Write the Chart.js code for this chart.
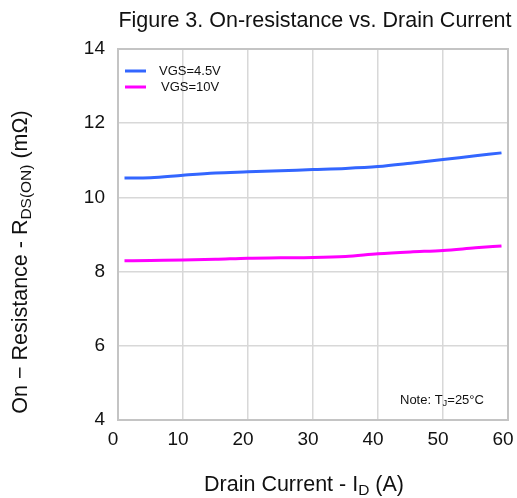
<!DOCTYPE html>
<html>
<head>
<meta charset="utf-8">
<script src="https://cdn.jsdelivr.net/npm/chart.js@4/dist/chart.umd.min.js"></script>
<style>
  html, body { margin: 0; padding: 0; background: #fff; }
  #wrap { width: 517px; height: 498px; }
</style>
</head>
<body>
<div id="wrap"><canvas id="myChart" width="517" height="498"></canvas></div>
<script>
// drain current (A) and on-resistance (mOhm)
const currentA = [1, 5, 10, 15, 20, 25, 30, 35, 40, 45, 50, 55, 59];
const rdsVgs45 = [10.52, 10.53, 10.6, 10.66, 10.69, 10.72, 10.75, 10.78, 10.83, 10.92, 11.02, 11.12, 11.2];
const rdsVgs10 = [8.29, 8.3, 8.31, 8.33, 8.36, 8.37, 8.38, 8.41, 8.48, 8.53, 8.57, 8.64, 8.69];
const seriesNames = ['VGS=4.5V', 'VGS=10V'];
const seriesColors = ['#3366ff', '#ff00ff'];

const FONT = '"Liberation Sans", Arial, sans-serif';

function toPoints(ys) {
    return currentA.map((x, i) => ({ x: x, y: ys[i] }));
}

// draws text with a subscript part: parts = [[text, isSub], ...]
function drawRich(ctx, parts, x, y, size, align) {
    let total = 0;
    parts.forEach(p => {
        ctx.font = (p[1] ? size * 0.72 : size) + 'px ' + FONT;
        total += ctx.measureText(p[0]).width;
    });
    let cx = align === 'center' ? x - total / 2 : x;
    ctx.textAlign = 'left';
    ctx.textBaseline = 'middle';
    parts.forEach(p => {
        ctx.font = (p[1] ? size * 0.72 : size) + 'px ' + FONT;
        ctx.fillText(p[0], cx, p[1] ? y + size * 0.25 : y);
        cx += ctx.measureText(p[0]).width;
    });
}

const textPlugin = {
    id: 'figureText',
    afterDraw(chart) {
        const ctx = chart.ctx;
        const area = chart.chartArea;
        ctx.save();
        ctx.fillStyle = '#111';

        // title
        ctx.font = '21.5px ' + FONT;
        ctx.textAlign = 'center';
        ctx.textBaseline = 'middle';
        ctx.fillText('Figure 3. On-resistance vs. Drain Current', 315, 21);

        // x axis title
        drawRich(ctx, [['Drain Current - I', false], ['D', true], [' (A)', false]], 304, 485, 21.5, 'center');

        // y axis title
        ctx.save();
        ctx.translate(21, 262);
        ctx.rotate(-Math.PI / 2);
        drawRich(ctx, [['On \u2212 Resistance - R', false], ['DS(ON)', true], [' (m\u03a9)', false]], 0, 0, 21.5, 'center');
        ctx.restore();

        // legend inside the plot
        chart.data.datasets.forEach((ds, i) => {
            const y = area.top + 22 + i * 16;
            ctx.strokeStyle = ds.borderColor;
            ctx.lineWidth = 3;
            ctx.beginPath();
            ctx.moveTo(area.left + 7, y);
            ctx.lineTo(area.left + 28, y);
            ctx.stroke();
            ctx.fillStyle = '#111';
            ctx.font = '13px ' + FONT;
            ctx.textAlign = 'left';
            ctx.textBaseline = 'middle';
            ctx.fillText(ds.label, area.left + 41 + i * 2, y);
        });

        // test condition note
        drawRich(ctx, [['Note: T', false], ['J', true], ['=25\u00b0C', false]], 400, 400, 13, 'left');
        ctx.restore();
    }
};

new Chart(document.getElementById('myChart'), {
    type: 'line',
    data: {
        datasets: [
            {
                label: seriesNames[0],
                data: toPoints(rdsVgs45),
                borderColor: seriesColors[0],
                borderWidth: 3,
                pointRadius: 0,
                cubicInterpolationMode: 'monotone'
            },
            {
                label: seriesNames[1],
                data: toPoints(rdsVgs10),
                borderColor: seriesColors[1],
                borderWidth: 3,
                pointRadius: 0,
                cubicInterpolationMode: 'monotone'
            }
        ]
    },
    options: {
        responsive: false,
        animation: false,
        layout: { padding: { top: 49, right: 9, left: 0, bottom: 0 } },
        plugins: {
            legend: { display: false },
            tooltip: { enabled: false }
        },
        scales: {
            x: {
                type: 'linear',
                min: 0,
                max: 60,
                ticks: { stepSize: 10, color: '#111', font: { size: 19, family: FONT }, padding: 8, labelOffset: -5 },
                grid: { color: '#d8d8d8', lineWidth: 1.5, drawTicks: false },
                border: { color: '#c4c4c4', width: 2 },
                afterFit(scale) {
                    scale.height = 78;
                    scale.paddingLeft = 0;
                    scale.paddingRight = 0;
                }
            },
            y: {
                min: 4,
                max: 14,
                ticks: { stepSize: 2, color: '#111', font: { size: 19, family: FONT }, padding: 13 },
                grid: { color: '#d8d8d8', lineWidth: 1.5, drawTicks: false },
                border: { color: '#c4c4c4', width: 2 },
                afterFit(scale) {
                    scale.width = 118;
                    scale.paddingTop = 0;
                    scale.paddingBottom = 0;
                }
            },
            x2: {
                type: 'linear', position: 'top', min: 0, max: 60,
                ticks: { display: false }, grid: { display: false },
                border: { color: '#c4c4c4', width: 2 },
                afterFit(scale) { scale.height = 0; }
            },
            y2: {
                position: 'right', min: 4, max: 14,
                ticks: { display: false }, grid: { display: false },
                border: { color: '#c4c4c4', width: 2 },
                afterFit(scale) { scale.width = 0; }
            }
        }
    },
    plugins: [textPlugin]
});
</script>
</body>
</html>
